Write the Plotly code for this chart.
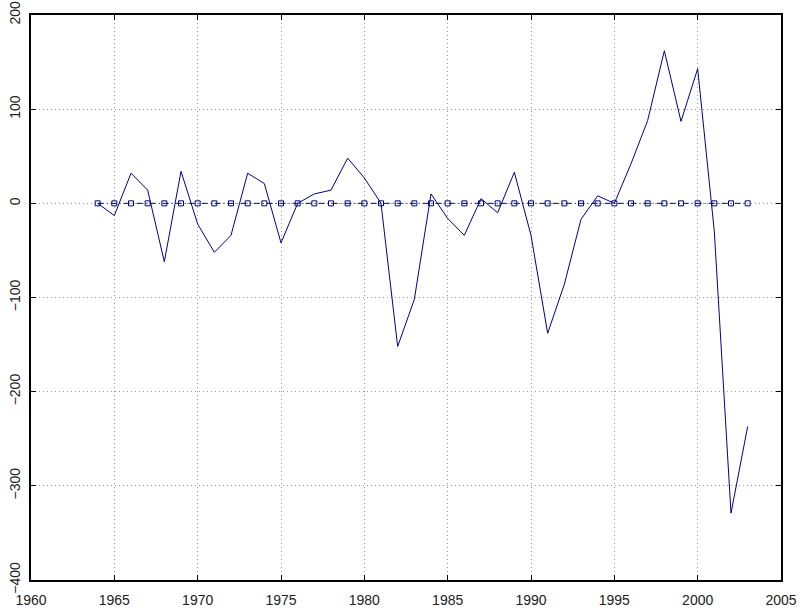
import plotly.graph_objects as go

years = list(range(1964, 2004))
values = [0, -13, 32, 14, -62, 34, -22, -52, -34, 32,
          21, -42, 0, 10, 14, 48, 27, 0, -152, -102,
          10, -16, -34, 5, -10, 33, -34, -138, -86, -17,
          8, 0, 42, 88, 162, 87, 143, -30, -329, -237]
baseline = [0] * len(years)

x_ticks = [1960, 1965, 1970, 1975, 1980, 1985, 1990, 1995, 2000, 2005]
y_ticks = [-400, -300, -200, -100, 0, 100, 200]

navy = "#00008B"

fig = go.Figure()
fig.add_trace(go.Scatter(
    x=years, y=baseline, mode="lines+markers",
    line=dict(color=navy, width=1, dash="6px,3px,1px,3px"),
    marker=dict(symbol="square-open", size=5, color=navy, line=dict(width=1, color=navy)),
    showlegend=False))
fig.add_trace(go.Scatter(
    x=years, y=values, mode="lines",
    line=dict(color=navy, width=1),
    showlegend=False))

axis_common = dict(
    showline=True, linewidth=2, linecolor="black", mirror="ticks",
    ticks="inside", ticklen=5, tickwidth=1, tickcolor="black",
    showgrid=True, gridcolor="#9a9a9a", gridwidth=1, griddash="1px,3px",
    zeroline=False, automargin=False,
    tickfont=dict(family="Liberation Sans, Arial, sans-serif", size=14, color="#222222"),
)

fig.update_xaxes(range=[1960, 2005], tickvals=x_ticks, ticktext=[str(v) for v in x_ticks],
                 ticklabelstandoff=6, **axis_common)
fig.update_yaxes(range=[-400, 200], tickvals=y_ticks, ticktext=[str(v).replace("-", "\u2212") for v in y_ticks],
                 tickangle=-90, ticklabelstandoff=3, **axis_common)

fig.update_layout(
    width=803, height=612,
    margin=dict(l=31, r=22, t=15, b=32),
    paper_bgcolor="white", plot_bgcolor="white",
)

fig.write_html("out.html", config={"displayModeBar": False},
               post_script="document.body.style.margin='0';document.body.style.overflow='hidden';")
